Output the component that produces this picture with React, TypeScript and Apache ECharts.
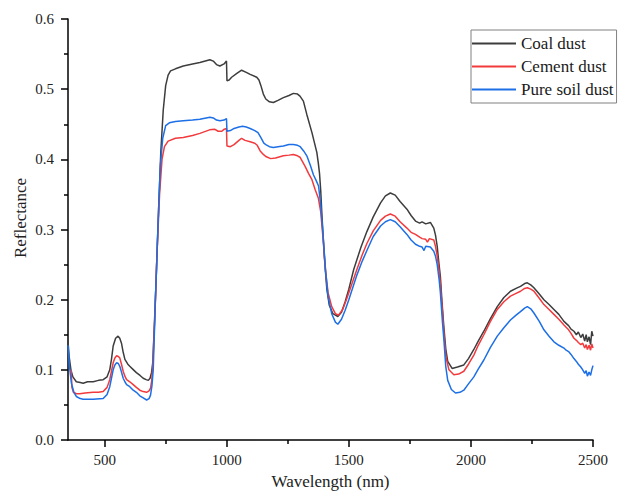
import React, { useEffect, useRef } from "react";
import * as echarts from "echarts";

// Reflectance spectra, [wavelength (nm), reflectance]
const coalDust: [number, number][] = [
  [350, 0.140], [355, 0.118], [362, 0.100], [370, 0.090], [384, 0.083], [400, 0.082], [412, 0.081],
  [430, 0.083], [453, 0.083], [475, 0.085], [494, 0.086], [510, 0.090], [521, 0.100], [528, 0.115],
  [535, 0.134], [545, 0.145], [555, 0.148], [562, 0.145], [569, 0.138], [576, 0.125], [583, 0.115],
  [595, 0.108], [603, 0.105], [615, 0.101], [630, 0.096], [645, 0.092], [658, 0.088], [670, 0.086],
  [679, 0.085], [686, 0.088], [692, 0.096], [697, 0.110], [702, 0.150], [710, 0.220], [720, 0.320],
  [730, 0.410], [740, 0.470], [750, 0.505], [760, 0.520], [770, 0.526], [790, 0.529], [822, 0.533],
  [860, 0.536], [890, 0.538], [931, 0.542], [945, 0.540], [958, 0.535], [972, 0.533], [989, 0.536],
  [999, 0.540], [1001, 0.512], [1010, 0.513], [1020, 0.517], [1040, 0.522], [1061, 0.527], [1080, 0.524],
  [1096, 0.521], [1123, 0.517], [1132, 0.513], [1140, 0.505], [1150, 0.493], [1160, 0.486], [1175, 0.482],
  [1191, 0.481], [1210, 0.484], [1232, 0.488], [1255, 0.491], [1273, 0.494], [1290, 0.493], [1300, 0.490],
  [1314, 0.483], [1328, 0.464], [1349, 0.438], [1369, 0.410], [1375, 0.395], [1380, 0.380], [1385, 0.355],
  [1390, 0.320], [1400, 0.260], [1410, 0.215], [1420, 0.192], [1435, 0.180], [1455, 0.176], [1470, 0.182],
  [1485, 0.197], [1500, 0.215], [1520, 0.243], [1550, 0.275], [1574, 0.297], [1600, 0.318], [1630, 0.338],
  [1650, 0.348], [1670, 0.352], [1690, 0.349], [1710, 0.340], [1738, 0.329], [1755, 0.320], [1773, 0.312],
  [1790, 0.309], [1800, 0.311], [1815, 0.308], [1834, 0.310], [1848, 0.302], [1855, 0.292], [1862, 0.276],
  [1868, 0.255], [1875, 0.233], [1882, 0.195], [1889, 0.162], [1897, 0.130], [1905, 0.112], [1923, 0.102],
  [1945, 0.104], [1971, 0.107], [1990, 0.116], [2012, 0.129], [2030, 0.141], [2053, 0.155], [2080, 0.173],
  [2108, 0.190], [2135, 0.203], [2162, 0.212], [2185, 0.216], [2203, 0.219], [2220, 0.223], [2231, 0.224],
  [2245, 0.221], [2258, 0.217], [2280, 0.208], [2299, 0.200], [2320, 0.193], [2340, 0.186], [2360, 0.179],
  [2381, 0.169], [2400, 0.163], [2410, 0.158], [2422, 0.155], [2432, 0.150], [2440, 0.154], [2450, 0.146],
  [2458, 0.151], [2466, 0.141], [2472, 0.150], [2477, 0.140], [2484, 0.147], [2490, 0.136], [2495, 0.155],
  [2500, 0.148],
];

const cementDust: [number, number][] = [
  [363, 0.100], [366, 0.075], [372, 0.068], [385, 0.066], [398, 0.066], [420, 0.067], [453, 0.068],
  [475, 0.068], [494, 0.069], [510, 0.075], [521, 0.086], [528, 0.098], [535, 0.110], [542, 0.117],
  [549, 0.120], [556, 0.119], [562, 0.117], [569, 0.108], [576, 0.098], [583, 0.091], [590, 0.086],
  [603, 0.083], [617, 0.079], [630, 0.075], [644, 0.071], [658, 0.069], [672, 0.068], [682, 0.070],
  [688, 0.074], [693, 0.085], [697, 0.105], [705, 0.170], [715, 0.270], [725, 0.350], [735, 0.400],
  [745, 0.418], [760, 0.426], [790, 0.430], [822, 0.431], [860, 0.434], [890, 0.437], [930, 0.442],
  [950, 0.443], [965, 0.440], [980, 0.440], [990, 0.443], [999, 0.444], [1001, 0.419], [1015, 0.418],
  [1030, 0.421], [1050, 0.427], [1061, 0.430], [1075, 0.427], [1096, 0.425], [1115, 0.423], [1125, 0.420],
  [1137, 0.412], [1150, 0.407], [1160, 0.404], [1180, 0.401], [1200, 0.402], [1232, 0.405], [1255, 0.406],
  [1273, 0.407], [1290, 0.405], [1300, 0.403], [1321, 0.390], [1335, 0.380], [1349, 0.371], [1362, 0.357],
  [1375, 0.345], [1385, 0.325], [1395, 0.285], [1405, 0.240], [1415, 0.210], [1430, 0.190], [1445, 0.180],
  [1458, 0.178], [1475, 0.186], [1490, 0.200], [1510, 0.220], [1533, 0.243], [1555, 0.264], [1574, 0.280],
  [1600, 0.298], [1630, 0.313], [1650, 0.319], [1670, 0.322], [1690, 0.319], [1710, 0.311], [1738, 0.302],
  [1755, 0.296], [1773, 0.293], [1790, 0.289], [1800, 0.287], [1815, 0.286], [1822, 0.282], [1830, 0.287],
  [1848, 0.285], [1855, 0.276], [1862, 0.262], [1870, 0.240], [1875, 0.222], [1883, 0.185], [1890, 0.150],
  [1898, 0.118], [1910, 0.100], [1930, 0.093], [1950, 0.094], [1971, 0.098], [1990, 0.108], [2012, 0.121],
  [2030, 0.135], [2053, 0.150], [2080, 0.169], [2108, 0.186], [2135, 0.197], [2162, 0.205], [2185, 0.209],
  [2203, 0.212], [2220, 0.216], [2231, 0.217], [2245, 0.215], [2258, 0.212], [2280, 0.202], [2299, 0.193],
  [2320, 0.186], [2340, 0.179], [2360, 0.172], [2381, 0.164], [2400, 0.157], [2410, 0.152], [2422, 0.145],
  [2432, 0.142], [2440, 0.139], [2450, 0.136], [2458, 0.138], [2466, 0.131], [2472, 0.136], [2477, 0.129],
  [2484, 0.135], [2490, 0.128], [2495, 0.137], [2500, 0.131],
];

const pureSoilDust: [number, number][] = [
  [350, 0.135], [356, 0.105], [364, 0.081], [374, 0.068], [384, 0.062], [400, 0.059], [412, 0.058],
  [453, 0.058], [494, 0.059], [510, 0.065], [521, 0.076], [528, 0.088], [535, 0.100], [542, 0.107],
  [549, 0.110], [556, 0.109], [562, 0.105], [569, 0.097], [576, 0.088], [583, 0.083], [590, 0.079],
  [603, 0.076], [617, 0.071], [630, 0.068], [644, 0.063], [658, 0.060], [672, 0.057], [682, 0.059],
  [688, 0.064], [694, 0.078], [699, 0.100], [708, 0.200], [718, 0.300], [728, 0.390], [738, 0.430],
  [750, 0.448], [765, 0.452], [790, 0.454], [822, 0.455], [860, 0.456], [890, 0.457], [931, 0.460],
  [945, 0.459], [958, 0.456], [972, 0.455], [989, 0.456], [999, 0.458], [1001, 0.440], [1015, 0.441],
  [1030, 0.444], [1050, 0.446], [1065, 0.447], [1080, 0.446], [1096, 0.444], [1115, 0.441], [1128, 0.438],
  [1140, 0.431], [1152, 0.423], [1160, 0.421], [1175, 0.418], [1191, 0.417], [1210, 0.418], [1232, 0.419],
  [1255, 0.421], [1273, 0.421], [1290, 0.420], [1301, 0.418], [1315, 0.412], [1328, 0.405], [1342, 0.392],
  [1355, 0.378], [1366, 0.370], [1376, 0.362], [1385, 0.335], [1395, 0.290], [1405, 0.240], [1415, 0.205],
  [1430, 0.180], [1445, 0.168], [1455, 0.165], [1470, 0.172], [1485, 0.185], [1500, 0.200], [1533, 0.235],
  [1555, 0.255], [1574, 0.270], [1600, 0.290], [1630, 0.305], [1650, 0.311], [1670, 0.314], [1690, 0.311],
  [1710, 0.304], [1738, 0.293], [1755, 0.285], [1773, 0.279], [1790, 0.276], [1800, 0.275], [1808, 0.270],
  [1815, 0.276], [1834, 0.275], [1848, 0.269], [1855, 0.262], [1862, 0.250], [1870, 0.228], [1875, 0.210],
  [1883, 0.170], [1890, 0.140], [1897, 0.105], [1905, 0.085], [1920, 0.072], [1937, 0.067], [1955, 0.068],
  [1971, 0.071], [1990, 0.080], [2012, 0.090], [2030, 0.101], [2053, 0.114], [2080, 0.132], [2108, 0.148],
  [2135, 0.160], [2162, 0.171], [2185, 0.178], [2203, 0.183], [2220, 0.188], [2231, 0.190], [2245, 0.187],
  [2258, 0.181], [2280, 0.169], [2299, 0.157], [2320, 0.148], [2340, 0.140], [2360, 0.135], [2381, 0.131],
  [2390, 0.128], [2400, 0.126], [2410, 0.122], [2422, 0.116], [2432, 0.112], [2440, 0.108], [2450, 0.104],
  [2458, 0.100], [2466, 0.095], [2472, 0.099], [2477, 0.091], [2484, 0.097], [2490, 0.092], [2495, 0.100],
  [2500, 0.106],
];

const seriesNames = ["Coal dust", "Cement dust", "Pure soil dust"];
const seriesColors = ["#3d3d3d", "#f23a3d", "#1d6fe6"];
const xMajorTicks = [500, 1000, 1500, 2000, 2500];
const xMinorTicks = [750, 1250, 1750, 2250];

const SERIF = '"Liberation Serif", "Times New Roman", serif';

export default function App() {
  const ref = useRef<HTMLDivElement>(null);

  useEffect(() => {
    if (!ref.current) return;
    const chart = echarts.init(ref.current, undefined, { renderer: "svg" });
    const datasets = [coalDust, cementDust, pureSoilDust];

    chart.setOption({
      animation: false,
      backgroundColor: "#ffffff",
      grid: { left: 68, right: 26, top: 19, bottom: 57, containLabel: false },
      legend: {
        orient: "vertical",
        left: 471,
        top: 30,
        padding: [5, 3, 5, 1],
        itemGap: 6,
        itemWidth: 44,
        itemHeight: 2,
        icon: "rect",
        borderColor: "#808080",
        borderWidth: 1,
        textStyle: { fontFamily: SERIF, fontSize: 17, color: "#1a1a1a", lineHeight: 17 },
        data: seriesNames,
      },
      xAxis: [
        {
          type: "value",
          min: 350,
          max: 2500,
          axisLine: { show: true, onZero: false, lineStyle: { color: "#000", width: 1.5 } },
          axisTick: { show: true, length: 7, customValues: xMajorTicks, lineStyle: { color: "#000", width: 1.5 } },
          axisLabel: {
            customValues: xMajorTicks,
            margin: 12,
            fontFamily: SERIF,
            fontSize: 15,
            color: "#222",
            formatter: (v: number) => String(v),
          },
          splitLine: { show: false },
          name: "Wavelength (nm)",
          nameLocation: "middle",
          nameGap: 33,
          nameTextStyle: { fontFamily: SERIF, fontSize: 17, color: "#222" },
        },
        {
          type: "value",
          min: 350,
          max: 2500,
          position: "bottom",
          axisLine: { show: false },
          axisTick: { show: true, length: 4, customValues: xMinorTicks, lineStyle: { color: "#000", width: 1.5 } },
          axisLabel: { show: false },
          splitLine: { show: false },
        },
      ],
      yAxis: {
        type: "value",
        min: 0,
        max: 0.6,
        interval: 0.1,
        axisLine: { show: true, onZero: false, lineStyle: { color: "#000", width: 1.5 } },
        axisTick: { show: true, length: 7, lineStyle: { color: "#000", width: 1.5 } },
        minorTick: { show: true, splitNumber: 2, length: 4, lineStyle: { color: "#000", width: 1.5 } },
        axisLabel: {
          margin: 14,
          fontFamily: SERIF,
          fontSize: 15,
          color: "#222",
          formatter: (v: number) => v.toFixed(1),
        },
        splitLine: { show: false },
      },
      graphic: [
        {
          type: "text",
          x: 20.5,
          y: 218,
          rotation: Math.PI / 2,
          style: {
            text: "Reflectance",
            font: `17px ${SERIF}`,
            fill: "#222",
            textAlign: "center",
            textVerticalAlign: "middle",
          },
        },
      ],
      series: datasets.map((d, i) => ({
        name: seriesNames[i],
        type: "line",
        xAxisIndex: 0,
        data: d,
        symbol: "none",
        showSymbol: false,
        smooth: false,
        lineStyle: { color: seriesColors[i], width: 1.5 },
        itemStyle: { color: seriesColors[i] },
      })),
    });

    return () => chart.dispose();
  }, []);

  return (
    <div
      ref={ref}
      style={{ position: "fixed", left: 0, top: 0, width: 619, height: 497, background: "#fff" }}
    />
  );
}
